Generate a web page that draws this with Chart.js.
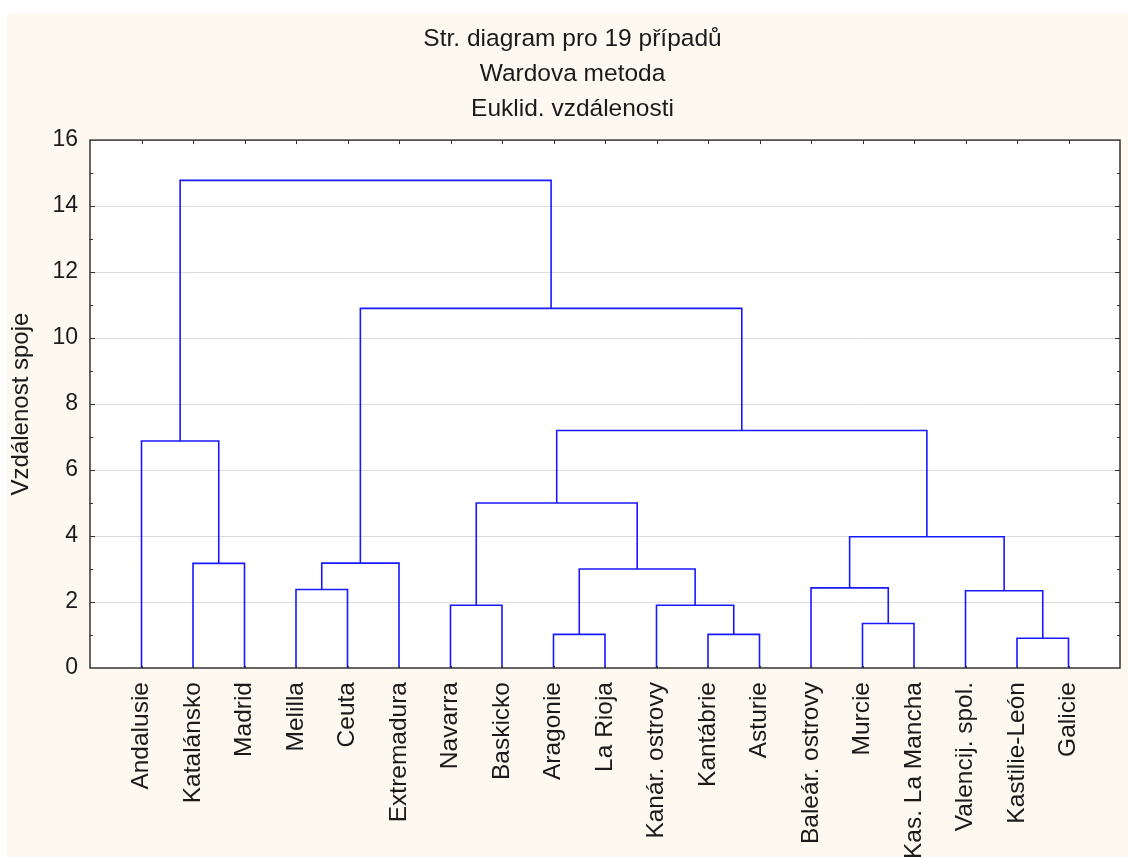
<!DOCTYPE html>
<html>
<head>
<meta charset="utf-8">
<script src="https://cdn.jsdelivr.net/npm/chart.js@4.4.0/dist/chart.umd.min.js"></script>
<style>
  html, body { margin: 0; padding: 0; background: #fff; }
  #wrap { width: 1128px; height: 857px; }
</style>
</head>
<body>
<div id="wrap"><canvas id="dendro"></canvas></div>
<script>
// leaves in dendrogram order
const leafLabels = [
  "Andalusie", "Katalánsko", "Madrid", "Melilla", "Ceuta", "Extremadura",
  "Navarra", "Baskicko", "Aragonie", "La Rioja", "Kanár. ostrovy", "Kantábrie",
  "Asturie", "Baleár. ostrovy", "Murcie", "Kas. La Mancha", "Valencij. spol.",
  "Kastilie-León", "Galicie"
];

// linkage: node ids 0..18 are leaves, each merge k creates node 19 + k
const mergeLeft   = [17, 8, 11, 14, 6, 10, 16, 3, 13, 20, 1, 26, 27, 23, 0, 32, 30, 33];
const mergeRight  = [18, 9, 12, 15, 7, 21, 19, 4, 22, 24, 2, 5, 25, 28, 29, 31, 34, 35];
const mergeHeight = [0.9, 1.02, 1.02, 1.35, 1.9, 1.9, 2.34, 2.38, 2.43, 3.0, 3.17, 3.18, 3.98, 5.0, 6.88, 7.2, 10.9, 14.78];

const yTicks = [0, 2, 4, 6, 8, 10, 12, 14, 16];

Chart.defaults.font.family = "'Liberation Sans', Arial, sans-serif";
Chart.defaults.color = "#1a1a1a";

// node positions: leaf i sits at i+1, a cluster sits between its two children
const nodeX = leafLabels.map((_, i) => i + 1);
const nodeY = leafLabels.map(() => 0);
const links = [];
mergeHeight.forEach((h, k) => {
  const a = mergeLeft[k], b = mergeRight[k];
  links.push([
    { x: nodeX[a], y: nodeY[a] },
    { x: nodeX[a], y: h },
    { x: nodeX[b], y: h },
    { x: nodeX[b], y: nodeY[b] },
  ]);
  nodeX.push((nodeX[a] + nodeX[b]) / 2);
  nodeY.push(h);
});

const frame = {
  id: "frame",
  afterLayout(chart) {
    // title sits a bit right of the canvas centre in the original
    if (chart.titleBlock) chart.titleBlock.right += 18;
  },
  beforeDraw(chart) {
    const { ctx, width, height, chartArea: a } = chart;
    ctx.save();
    ctx.fillStyle = "#fff";
    ctx.fillRect(0, 0, width, height);
    ctx.fillStyle = "#fdf9f0";
    ctx.fillRect(7, 13, width - 7, height - 13);
    ctx.fillStyle = "#fff";
    ctx.fillRect(a.left, a.top, a.right - a.left, a.bottom - a.top);
    ctx.restore();
  },
  afterDatasetsDraw(chart) {
    const { ctx, chartArea: a, scales } = chart;
    ctx.save();
    ctx.strokeStyle = "#333";
    ctx.lineWidth = 1;
    ctx.beginPath();
    // inward ticks left / right
    for (let v = 1; v < 16; v++) {
      const y = Math.round(scales.y.getPixelForValue(v)) + 0.5;
      const len = v % 2 === 0 ? 5 : 3;
      ctx.moveTo(a.left, y); ctx.lineTo(a.left + len, y);
      ctx.moveTo(a.right, y); ctx.lineTo(a.right - len, y);
    }
    // inward ticks top / bottom at leaves
    leafLabels.forEach((_, i) => {
      const x = Math.round(scales.x.getPixelForValue(i + 1)) + 0.5;
      ctx.moveTo(x, a.top); ctx.lineTo(x, a.top + 4);
      ctx.moveTo(x, a.bottom); ctx.lineTo(x, a.bottom - 2);
    });
    ctx.stroke();
    ctx.lineWidth = 1.5;
    ctx.strokeRect(a.left, a.top, a.right - a.left, a.bottom - a.top);
    ctx.restore();
  },
};

new Chart(document.getElementById("dendro"), {
  type: "scatter",
  data: {
    datasets: links.map((pts) => ({
      data: pts,
      showLine: true,
      borderColor: "rgb(25, 25, 255)",
      borderWidth: 1.6,
      pointRadius: 0,
      tension: 0,
      fill: false,
    })),
  },
  options: {
    animation: false,
    responsive: true,
    maintainAspectRatio: false,
    layout: { padding: { top: 13, left: 7, right: 8, bottom: 0 } },
    plugins: {
      legend: { display: false },
      tooltip: { enabled: false },
      title: {
        display: true,
        text: ["Str. diagram pro 19 případů", "Wardova metoda", "Euklid. vzdálenosti"],
        color: "#1a1a1a",
        font: { size: 24.5, weight: "normal", lineHeight: 1.43 },
        padding: { top: 9, bottom: 13 },
      },
    },
    scales: {
      x: {
        type: "linear",
        min: 0,
        max: 20,
        afterBuildTicks: (s) => { s.ticks = leafLabels.map((_, i) => ({ value: i + 1 })); },
        afterFit: (s) => { s.height = 189; },
        grid: { display: false, drawTicks: false },
        border: { display: false },
        ticks: {
          autoSkip: false,
          minRotation: 90,
          maxRotation: 90,
          padding: 14,
          font: { size: 24.5 },
          callback: (v) => leafLabels[v - 1],
        },
      },
      y: {
        min: 0,
        max: 16,
        afterBuildTicks: (s) => { s.ticks = yTicks.map((v) => ({ value: v })); },
        afterFit: (s) => { s.width = 83; },
        grid: {
          drawTicks: false,
          lineWidth: 1,
          color: (c) => (c.tick && (c.tick.value === 0 || c.tick.value === 16)) ? "rgba(0,0,0,0)" : "#dcdcdc",
        },
        border: { display: false },
        ticks: { padding: 12, font: { size: 23 } },
        title: {
          display: true,
          text: "Vzdálenost spoje",
          font: { size: 24 },
          padding: { top: 0, bottom: 0 },
        },
      },
    },
  },
  plugins: [frame],
});
</script>
</body>
</html>
